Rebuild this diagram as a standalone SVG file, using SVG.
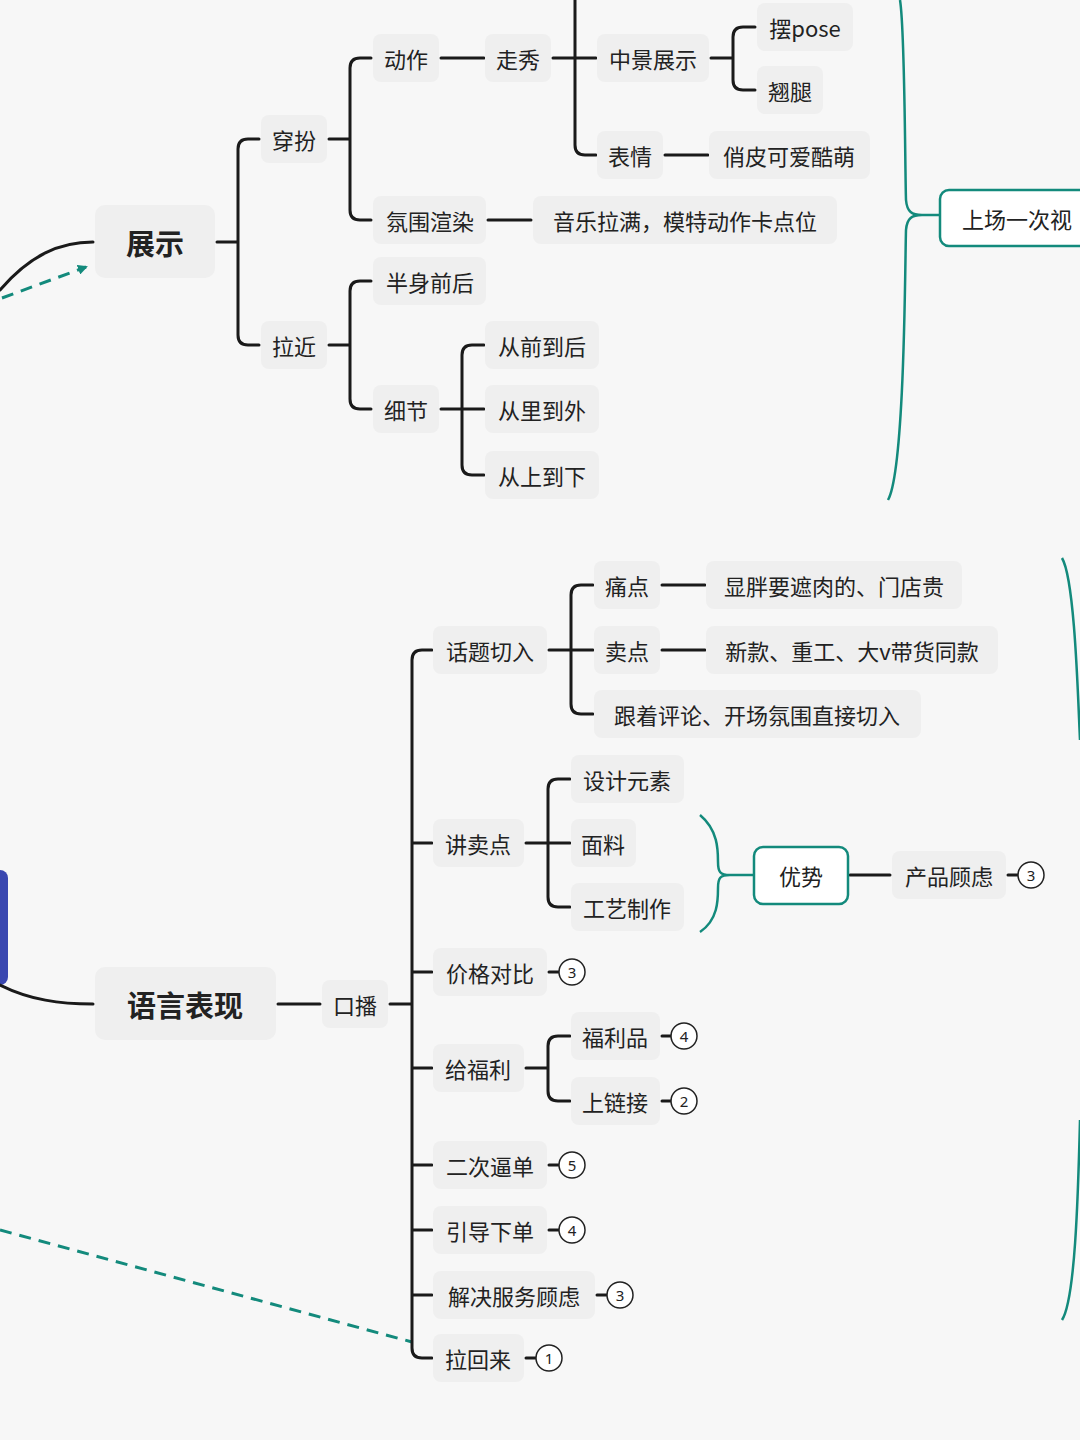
<svg xmlns="http://www.w3.org/2000/svg" width="1080" height="1440" viewBox="0 0 1080 1440">
<defs>
<style>
.b{fill:#efefef}
.t{font-family:"Noto Sans CJK SC","Noto Sans",sans-serif;font-size:22px;fill:#222;dominant-baseline:central;text-anchor:middle}
.big{font-size:29px;font-weight:bold}
.c{fill:none;stroke:#1a1a1a;stroke-width:3;stroke-linecap:round}
.g{fill:none;stroke:#138a7c;stroke-width:2.5}
.n circle{fill:#fff;stroke:#222;stroke-width:1.5}
.n text{font-family:"Noto Sans",sans-serif;font-size:15px;fill:#222;text-anchor:middle;dominant-baseline:central}
</style>
<marker id="ah" markerWidth="10" markerHeight="10" refX="8" refY="5" orient="auto" markerUnits="userSpaceOnUse"><path d="M0,0 L10,5 L0,10 Z" fill="#138a7c"/></marker>
</defs>
<rect width="1080" height="1440" fill="#f7f7f7"/>
<rect x="-10" y="870" width="18" height="115" rx="8" fill="#3a47b0"/>
<g id="connectors">
<path class="c" d="M0,290 C30,255 60,242 93,242"/>
<path class="c" d="M0,985 C30,1000 60,1004 93,1004"/>
<path d="M2,298 L86,267" fill="none" stroke="#138a7c" stroke-width="3" stroke-dasharray="12,8" marker-end="url(#ah)"/>
<path d="M0,1230 L412,1342" fill="none" stroke="#138a7c" stroke-width="3" stroke-dasharray="12,8"/>
<path class="c" d="M217,242H238M259,139H248Q238,139 238,149V335Q238,345 248,345H259"/>
<path class="c" d="M329,139H350M371,58H360Q350,58 350,68V210Q350,220 360,220H371"/>
<path class="c" d="M441,58H484"/>
<path class="c" d="M553,58H596M575,0V145Q575,155 585,155H596"/>
<path class="c" d="M711,58H733M755,27H743Q733,27 733,37V80Q733,90 743,90H755"/>
<path class="c" d="M665,155H708"/>
<path class="c" d="M488,220H531"/>
<path class="c" d="M329,345H350M371,281H360Q350,281 350,291V399Q350,409 360,409H371"/>
<path class="c" d="M441,409H484M484,345H472Q462,345 462,355V465Q462,475 472,475H484"/>
<path class="c" d="M278,1004H320M390,1004H412M432,650H422Q412,650 412,660V1348Q412,1358 422,1358H432M412,843H432M412,972H432M412,1068H432M412,1165H432M412,1230H432M412,1295H432"/>
<path class="c" d="M549,650H593M593,585H581Q571,585 571,595V704Q571,714 581,714H593M662,585H705M662,650H705"/>
<path class="c" d="M526,843H570M570,779H558Q548,779 548,789V897Q548,907 558,907H570"/>
<path class="c" d="M526,1068H548M570,1036H558Q548,1036 548,1046V1091Q548,1101 558,1101H570"/>
<path class="c" d="M850,875H890"/>
<path class="c" d="M1008,875H1018M549,972H559M662,1036H671M662,1101H671M549,1165H559M549,1230H559M597,1295H607M526,1358H536"/>
<path class="g" d="M888,500 C905,470 905,260 906,230 C907,218 912,215 922,215 C912,215 907,212 906,200 C905,170 905,30 900,0"/>
<path class="g" d="M922,215H940"/>
<path class="g" d="M1062,558 C1075,580 1078,700 1080,740 M1080,1120 C1078,1200 1075,1300 1062,1320"/>
<path class="g" d="M700,815 C718,830 718,850 718,862 C718,872 720,875 730,875 C720,875 718,878 718,888 C718,900 718,920 700,932"/>
<path class="g" d="M730,875H754"/>
</g>
<g id="n-zhanshi"><rect class="b" x="95" y="205" width="120" height="73" rx="10"/><text class="t big" x="155" y="242">展示</text></g>
<g id="n-chuanban"><rect class="b" x="261" y="115" width="66" height="48" rx="8"/><text class="t" x="294" y="139">穿扮</text></g>
<g id="n-dongzuo"><rect class="b" x="373" y="34" width="66" height="48" rx="8"/><text class="t" x="406" y="58">动作</text></g>
<g id="n-zouxiu"><rect class="b" x="485" y="34" width="66" height="48" rx="8"/><text class="t" x="518" y="58">走秀</text></g>
<g id="n-zhongjing"><rect class="b" x="597" y="34" width="112" height="48" rx="8"/><text class="t" x="653" y="58">中景展示</text></g>
<g id="n-baipose"><rect class="b" x="757" y="3" width="96" height="48" rx="8"/><text class="t" x="805" y="27">摆pose</text></g>
<g id="n-qiaotui"><rect class="b" x="757" y="66" width="66" height="48" rx="8"/><text class="t" x="790" y="90">翘腿</text></g>
<g id="n-biaoqing"><rect class="b" x="597" y="131" width="66" height="48" rx="8"/><text class="t" x="630" y="155">表情</text></g>
<g id="n-qiaopi"><rect class="b" x="709" y="131" width="161" height="48" rx="8"/><text class="t" x="789" y="155">俏皮可爱酷萌</text></g>
<g id="n-fenwei"><rect class="b" x="373" y="196" width="113" height="48" rx="8"/><text class="t" x="430" y="220">氛围渲染</text></g>
<g id="n-yinyue"><rect class="b" x="533" y="196" width="304" height="48" rx="8"/><text class="t" x="685" y="220">音乐拉满，模特动作卡点位</text></g>
<g id="n-lajin"><rect class="b" x="261" y="321" width="66" height="48" rx="8"/><text class="t" x="294" y="345">拉近</text></g>
<g id="n-banshen"><rect class="b" x="373" y="257" width="113" height="48" rx="8"/><text class="t" x="430" y="281">半身前后</text></g>
<g id="n-xijie"><rect class="b" x="373" y="385" width="66" height="48" rx="8"/><text class="t" x="406" y="409">细节</text></g>
<g id="n-qianhou"><rect class="b" x="485" y="321" width="114" height="48" rx="8"/><text class="t" x="542" y="345">从前到后</text></g>
<g id="n-liwai"><rect class="b" x="485" y="385" width="114" height="48" rx="8"/><text class="t" x="542" y="409">从里到外</text></g>
<g id="n-shangxia"><rect class="b" x="485" y="451" width="114" height="48" rx="8"/><text class="t" x="542" y="475">从上到下</text></g>
<g id="n-shangchang"><rect x="940" y="190" width="160" height="56" rx="9" fill="#fff" stroke="#138a7c" stroke-width="2.5"/><text class="t" x="962" y="218" style="text-anchor:start">上场一次视</text></g>
<g id="n-yuyan"><rect class="b" x="95" y="967" width="181" height="73" rx="10"/><text class="t big" x="185" y="1004">语言表现</text></g>
<g id="n-koubo"><rect class="b" x="322" y="980" width="66" height="48" rx="8"/><text class="t" x="355" y="1004">口播</text></g>
<g id="n-huati"><rect class="b" x="433" y="626" width="114" height="48" rx="8"/><text class="t" x="490" y="650">话题切入</text></g>
<g id="n-tongdian"><rect class="b" x="594" y="561" width="66" height="48" rx="8"/><text class="t" x="627" y="585">痛点</text></g>
<g id="n-xianpang"><rect class="b" x="706" y="561" width="256" height="48" rx="8"/><text class="t" x="834" y="585">显胖要遮肉的、门店贵</text></g>
<g id="n-maidian"><rect class="b" x="594" y="626" width="66" height="48" rx="8"/><text class="t" x="627" y="650">卖点</text></g>
<g id="n-xinkuan"><rect class="b" x="706" y="626" width="292" height="48" rx="8"/><text class="t" x="852" y="650">新款、重工、大v带货同款</text></g>
<g id="n-genzhe"><rect class="b" x="594" y="690" width="327" height="48" rx="8"/><text class="t" x="757" y="714">跟着评论、开场氛围直接切入</text></g>
<g id="n-jiangmai"><rect class="b" x="433" y="819" width="91" height="48" rx="8"/><text class="t" x="478" y="843">讲卖点</text></g>
<g id="n-sheji"><rect class="b" x="571" y="755" width="113" height="48" rx="8"/><text class="t" x="627" y="779">设计元素</text></g>
<g id="n-mianliao"><rect class="b" x="571" y="819" width="65" height="48" rx="8"/><text class="t" x="603" y="843">面料</text></g>
<g id="n-gongyi"><rect class="b" x="571" y="883" width="113" height="48" rx="8"/><text class="t" x="627" y="907">工艺制作</text></g>
<g id="n-youshi"><rect x="754" y="847" width="94" height="57" rx="9" fill="#fff" stroke="#138a7c" stroke-width="2.5"/><text class="t" x="801" y="875">优势</text></g>
<g id="n-guli"><rect class="b" x="892" y="851" width="114" height="48" rx="8"/><text class="t" x="949" y="875">产品顾虑</text></g>
<g id="n-jiage"><rect class="b" x="433" y="948" width="114" height="48" rx="8"/><text class="t" x="490" y="972">价格对比</text></g>
<g id="n-fuli"><rect class="b" x="433" y="1044" width="91" height="48" rx="8"/><text class="t" x="478" y="1068">给福利</text></g>
<g id="n-fulipin"><rect class="b" x="571" y="1012" width="89" height="48" rx="8"/><text class="t" x="615" y="1036">福利品</text></g>
<g id="n-lianjie"><rect class="b" x="571" y="1077" width="89" height="48" rx="8"/><text class="t" x="615" y="1101">上链接</text></g>
<g id="n-erci"><rect class="b" x="433" y="1141" width="114" height="48" rx="8"/><text class="t" x="490" y="1165">二次逼单</text></g>
<g id="n-yindao"><rect class="b" x="433" y="1206" width="114" height="48" rx="8"/><text class="t" x="490" y="1230">引导下单</text></g>
<g id="n-jiejue"><rect class="b" x="433" y="1271" width="162" height="48" rx="8"/><text class="t" x="514" y="1295">解决服务顾虑</text></g>
<g id="n-lahui"><rect class="b" x="433" y="1334" width="91" height="48" rx="8"/><text class="t" x="478" y="1358">拉回来</text></g>
<g id="numbers" class="n">
<circle cx="1031" cy="875" r="13"/><text x="1031" y="875">3</text>
<circle cx="572" cy="972" r="13"/><text x="572" y="972">3</text>
<circle cx="684" cy="1036" r="13"/><text x="684" y="1036">4</text>
<circle cx="684" cy="1101" r="13"/><text x="684" y="1101">2</text>
<circle cx="572" cy="1165" r="13"/><text x="572" y="1165">5</text>
<circle cx="572" cy="1230" r="13"/><text x="572" y="1230">4</text>
<circle cx="620" cy="1295" r="13"/><text x="620" y="1295">3</text>
<circle cx="549" cy="1358" r="13"/><text x="549" y="1358">1</text>
</g>
</svg>
